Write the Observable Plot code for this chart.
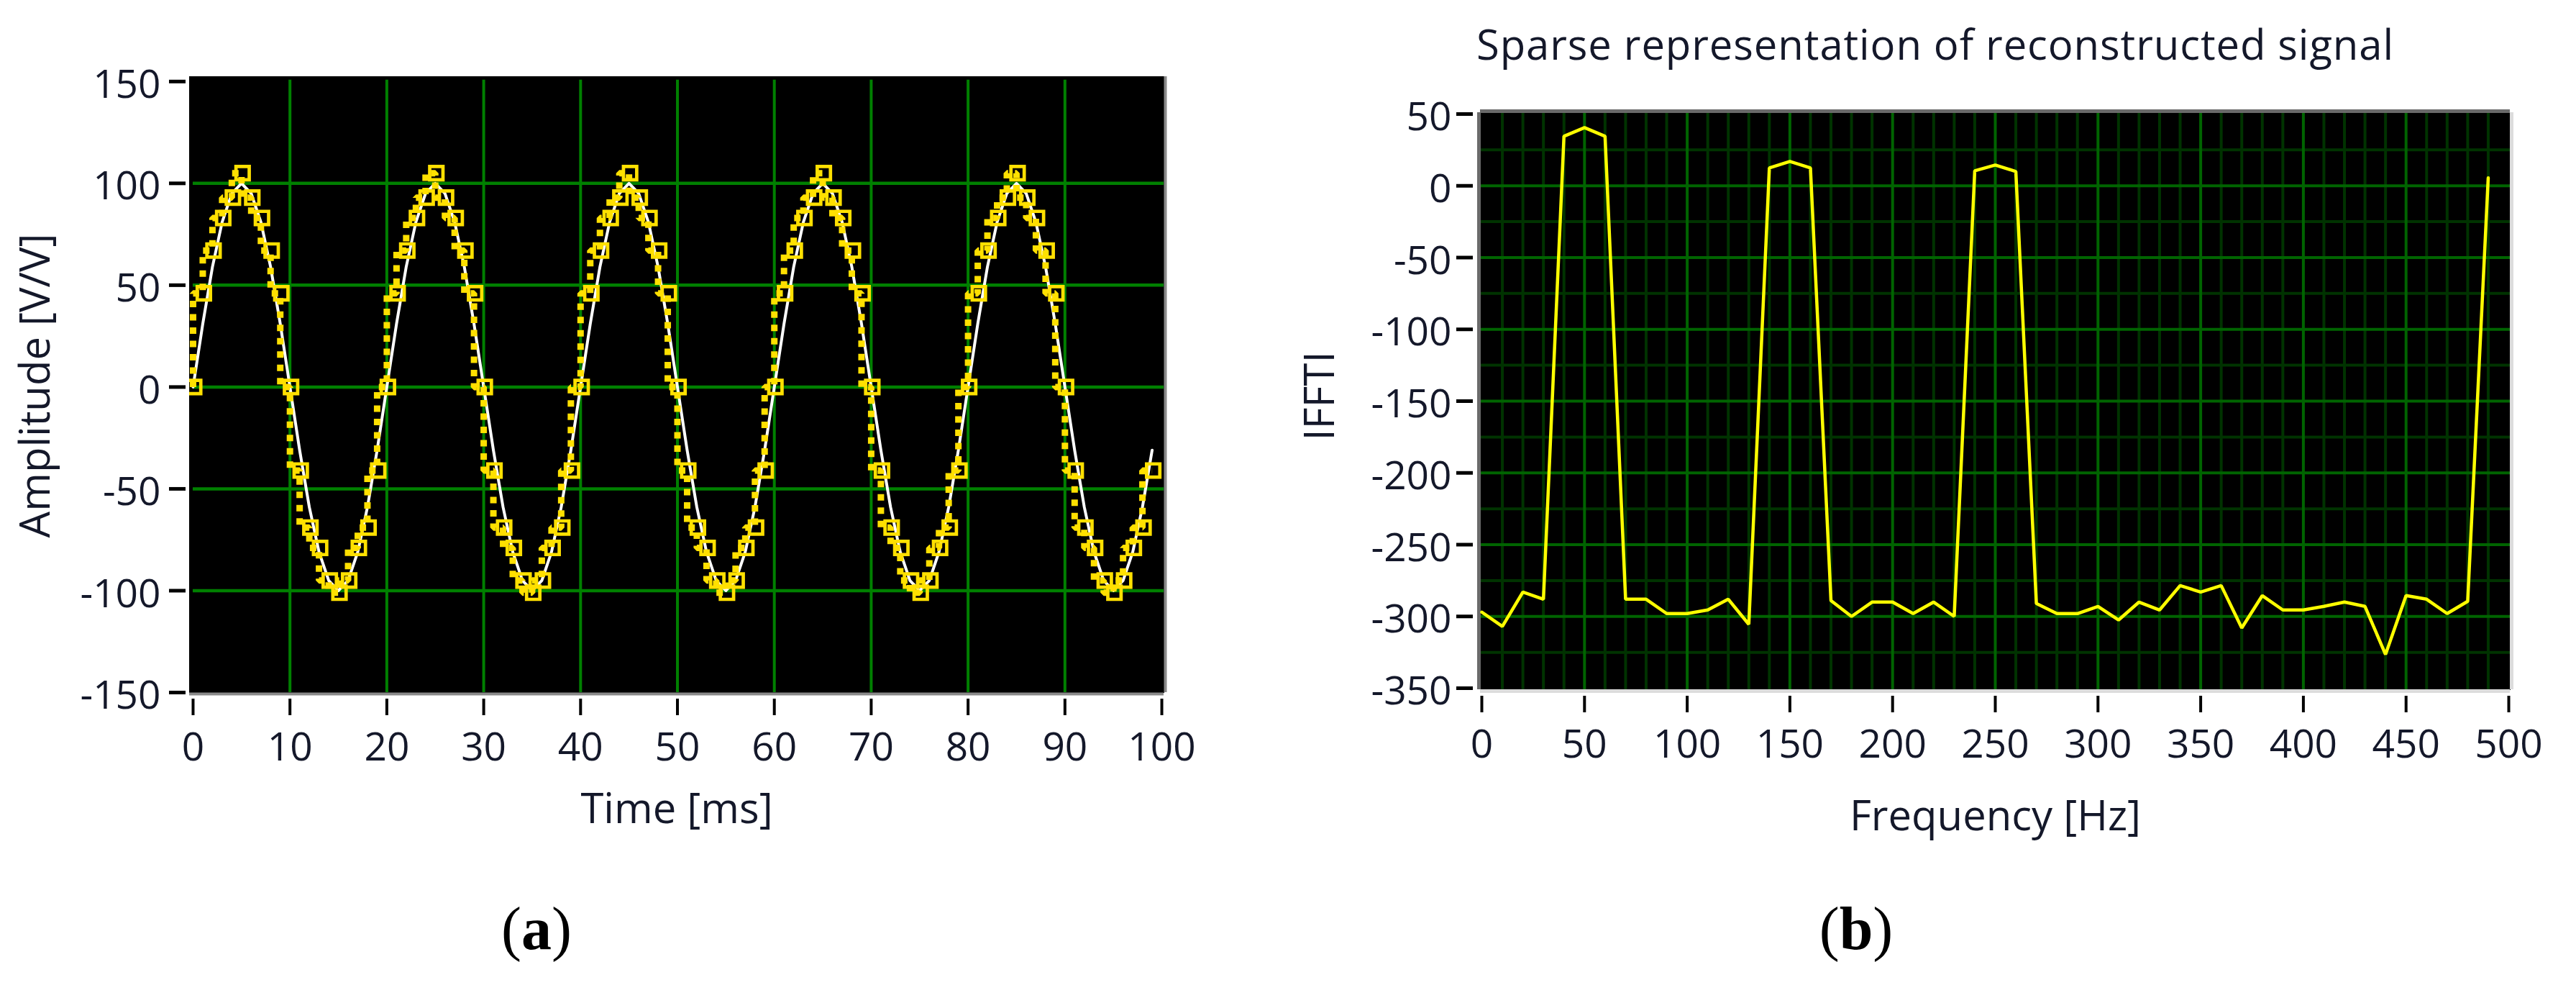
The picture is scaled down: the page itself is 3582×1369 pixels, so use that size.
<!DOCTYPE html>
<html>
<head>
<meta charset="utf-8">
<script src="https://cdn.jsdelivr.net/npm/d3@7"></script>
<script src="https://cdn.jsdelivr.net/npm/@observablehq/plot@0.6"></script>
<style>
  html, body { margin: 0; padding: 0; background: #fff; width: 3582px; height: 1369px; overflow: hidden; }
  #stage { position: relative; width: 3582px; height: 1369px; }
  #left, #right { position: absolute; top: 0; }
  #left { left: 0; }
  #right { left: 1791px; }
  svg { display: block; }
  .cap { position: absolute; font-family: "Liberation Serif", serif; font-size: 84px; line-height: 1; color: #000; width: 200px; text-align: center; }
  #title { position: absolute; left: 2053px; top: 32px; font-family: "Open Sans", sans-serif; font-size: 58px; letter-spacing: 0.9px; line-height: 1; color: #14182a; white-space: nowrap; }
</style>
</head>
<body>
<div id="stage">
  <div id="left"></div>
  <div id="right"></div>
  <div id="title">Sparse representation of reconstructed signal</div>
  <div class="cap" style="left:646px; top:1249px;">(<b>a</b>)</div>
  <div class="cap" style="left:2481px; top:1249px;">(<b>b</b>)</div>
</div>
<script>
// ---- Panel (a): time domain ----
const timeMs = [0,1,2,3,4,5,6,7,8,9,10,11,12,13,14,15,16,17,18,19,20,21,22,23,24,25,26,27,28,29,30,31,32,33,34,35,36,37,38,39,40,41,42,43,44,45,46,47,48,49,50,51,52,53,54,55,56,57,58,59,60,61,62,63,64,65,66,67,68,69,70,71,72,73,74,75,76,77,78,79,80,81,82,83,84,85,86,87,88,89,90,91,92,93,94,95,96,97,98,99];
const originalAmp = [
  0,31,59,81,95,100,95,81,59,31,0,-31,-59,-81,-95,-100,-95,-81,-59,-31,
  0,31,59,81,95,100,95,81,59,31,0,-31,-59,-81,-95,-100,-95,-81,-59,-31,
  0,31,59,81,95,100,95,81,59,31,0,-31,-59,-81,-95,-100,-95,-81,-59,-31,
  0,31,59,81,95,100,95,81,59,31,0,-31,-59,-81,-95,-100,-95,-81,-59,-31,
  0,31,59,81,95,100,95,81,59,31,0,-31,-59,-81,-95,-100,-95,-81,-59,-31];
const reconstructedAmp = [
  0,46,67,83,93,105,93,83,67,46,0,-41,-69,-79,-95,-101,-95,-79,-69,-41,
  0,46,67,83,93,105,93,83,67,46,0,-41,-69,-79,-95,-101,-95,-79,-69,-41,
  0,46,67,83,93,105,93,83,67,46,0,-41,-69,-79,-95,-101,-95,-79,-69,-41,
  0,46,67,83,93,105,93,83,67,46,0,-41,-69,-79,-95,-101,-95,-79,-69,-41,
  0,46,67,83,93,105,93,83,67,46,0,-41,-69,-79,-95,-101,-95,-79,-69,-41];
const timeTicks = [0,10,20,30,40,50,60,70,80,90,100];
const timeGrid = [10,20,30,40,50,60,70,80,90];
const ampTicks = [150,100,50,0,-50,-100,-150];
const ampGrid = [100,50,0,-50,-100];

// ---- Panel (b): sparse representation ----
const freqHz = [0,10,20,30,40,50,60,70,80,90,100,110,120,130,140,150,160,170,180,190,200,210,220,230,240,250,260,270,280,290,300,310,320,330,340,350,360,370,380,390,400,410,420,430,440,450,460,470,480,490];
const ifft = [-297,-307,-283,-288,34.5,40.5,34.5,-288,-288,-298,-298,-295.5,-288,-305.5,12.5,17,12.5,-289,-300,-290,-290,-298,-290,-300,10.5,14.5,10,-291,-298,-298,-293,-302.5,-290,-295.5,-278.5,-283,-278.5,-308,-285.5,-295.5,-295.5,-293,-290,-293,-326.5,-285.5,-288,-298,-289.5,5.5];
const freqTicks = [0,50,100,150,200,250,300,350,400,450,500];
const freqMajor = [50,100,150,200,250,300,350,400,450];
const freqMinor = [10,20,30,40,60,70,80,90,110,120,130,140,160,170,180,190,210,220,230,240,260,270,280,290,310,320,330,340,360,370,380,390,410,420,430,440,460,470,480,490];
const ifftTicks = [50,0,-50,-100,-150,-200,-250,-300,-350];
const ifftMajor = [0,-50,-100,-150,-200,-250,-300];
const ifftMinor = [25,-25,-75,-125,-175,-225,-275,-325];

const FONT = "Open Sans, sans-serif";
const INK = "#14182a";
const hy = d => String(d);

function yAxes(ticks, tickGap) {
  return [
    Plot.axisY(ticks, {tickSize: 23, tickFormat: () => "", stroke: "#000", strokeWidth: 5, dx: -tickGap, label: null}),
    Plot.axisY(ticks, {tickSize: 0, tickPadding: 40, dy: 5, tickFormat: hy, fontSize: 55, fill: INK, fontVariant: "normal", label: null})
  ];
}
function yLabel(text, dx, dy) {
  return Plot.text([text], {frameAnchor: "left", textAnchor: "middle", rotate: -90, dx, dy, fontSize: 58, fill: INK, lineAnchor: "middle"});
}
function xAxes(ticks, labelText, labelOffset) {
  return [
    Plot.axisX(ticks, {tickSize: 23, tickFormat: () => "", stroke: "#000", strokeWidth: 4, dy: 9, label: null}),
    Plot.axisX(ticks, {tickSize: 0, tickPadding: 55, tickFormat: hy, fontSize: 55, fill: INK, fontVariant: "normal", label: null}),
    Plot.axisX(ticks, {tickSize: 0, tickFormat: () => "", fontSize: 58, fill: INK,
      label: labelText, labelAnchor: "center", labelArrow: "none", labelOffset})
  ];
}

// Panel (a)
const xA = [-0.37, 100.22], yA = [-150, 152.4];
const rowsA = timeMs.map((t, i) => ({t, o: originalAmp[i], r: reconstructedAmp[i]}));
const plotA = Plot.plot({
  width: 1791, height: 1369,
  marginLeft: 263, marginRight: 173, marginTop: 106, marginBottom: 407,
  style: {fontFamily: FONT, fontSize: "55px", background: "transparent", color: INK},
  x: {domain: xA, axis: null},
  y: {domain: yA, axis: null},
  marks: [
    Plot.frame({fill: "#000", stroke: "#000"}),
    Plot.ruleX(timeGrid, {y1: yA[0], y2: 150.7, stroke: "#008000", strokeWidth: 4}),
    Plot.ruleY(ampGrid, {x1: 0, x2: xA[1], stroke: "#008000", strokeWidth: 4.5}),
    Plot.ruleX([xA[1]], {y1: yA[0], y2: yA[1], stroke: "#8a8a8a", strokeWidth: 4, dx: 2}),
    Plot.ruleY([yA[0]], {x1: xA[0], x2: xA[1], stroke: "#8a8a8a", strokeWidth: 4, dy: 2}),
    Plot.line(rowsA, {x: "t", y: "o", stroke: "#fff", strokeWidth: 4}),
    Plot.line(rowsA, {x: "t", y: "r", stroke: "#ffe000", strokeWidth: 9, strokeDasharray: "9 9.5", strokeLinecap: "butt", strokeLinejoin: "miter", curve: "step-before", clip: "frame"}),
    Plot.dot(rowsA, {x: "t", y: "r", symbol: "square", r: 10.4, stroke: "#ffe000", strokeWidth: 4.7, fill: "none", dx: 1.5, clip: "frame"}),
    ...yAxes(ampTicks, 5),
    yLabel("Amplitude [V/V]", -213, 1.5),
    ...xAxes(timeTicks, "Time [ms]", 181)
  ]
});
document.getElementById("left").appendChild(plotA);

// Panel (b)
const xB = [-0.7, 500.7], yB = [-351, 51];
const rowsB = freqHz.map((f, i) => ({f, v: ifft[i]}));
const plotB = Plot.plot({
  width: 1791, height: 1369,
  marginLeft: 267, marginRight: 92, marginTop: 156, marginBottom: 411,
  style: {fontFamily: FONT, fontSize: "55px", background: "transparent", color: INK},
  x: {domain: xB, axis: null},
  y: {domain: yB, axis: null},
  marks: [
    Plot.frame({fill: "#000", stroke: "#000"}),
    Plot.ruleX(freqMinor, {y1: yB[0], y2: yB[1], stroke: "#003300", strokeWidth: 4}),
    Plot.ruleY(ifftMinor, {x1: xB[0], x2: xB[1], stroke: "#003300", strokeWidth: 4}),
    Plot.ruleX(freqMajor, {y1: yB[0], y2: yB[1], stroke: "#006400", strokeWidth: 4}),
    Plot.ruleY(ifftMajor, {x1: xB[0], x2: xB[1], stroke: "#006400", strokeWidth: 4}),
    Plot.ruleX([xB[0]], {y1: yB[0], y2: yB[1], stroke: "#6a6a6a", strokeWidth: 5, dx: -2}),
    Plot.ruleY([yB[1]], {x1: xB[0], x2: xB[1], stroke: "#6a6a6a", strokeWidth: 5, dy: -2}),
    Plot.ruleX([xB[1]], {y1: yB[0], y2: yB[1], stroke: "#dcdcdc", strokeWidth: 5, dx: 2}),
    Plot.ruleY([yB[0]], {x1: xB[0], x2: xB[1], stroke: "#dcdcdc", strokeWidth: 5, dy: 2}),
    Plot.line(rowsB, {x: "f", y: "v", stroke: "#ffff00", strokeWidth: 4.5, strokeLinejoin: "miter"}),
    ...yAxes(ifftTicks, 10),
    yLabel("IFFTI", -222, -7),
    ...xAxes(freqTicks, "Frequency [Hz]", 195)
  ]
});
document.getElementById("right").appendChild(plotB);
</script>
</body>
</html>
